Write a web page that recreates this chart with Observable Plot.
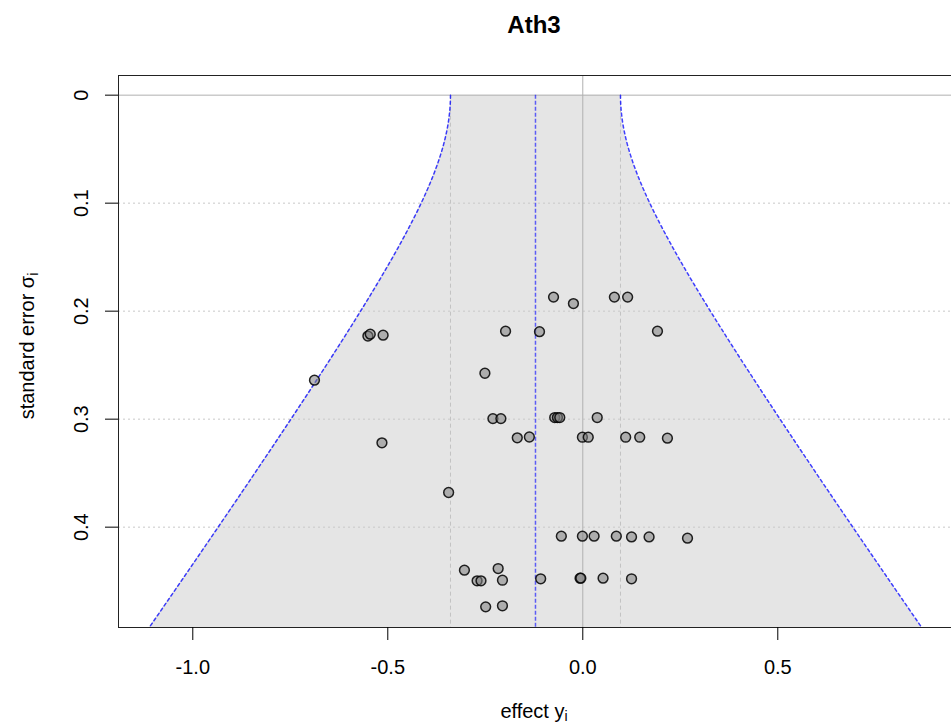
<!DOCTYPE html>
<html><head><meta charset="utf-8">
<script src="https://cdn.jsdelivr.net/npm/d3@7"></script>
<script src="https://cdn.jsdelivr.net/npm/@observablehq/plot@0.6"></script>
<style>
html,body{margin:0;padding:0;background:#fff;overflow:hidden;}
#chart svg{display:block;max-width:none;}
</style></head><body><div id="chart"></div>
<script>
// Observed effects (y_i) and standard errors (sigma_i)
const effects = [
  -0.075, -0.024, 0.081, 0.115,
  -0.198, -0.111, 0.1915,
  -0.251,
  -0.2305, -0.210, -0.072, -0.065, -0.059, 0.037,
  -0.168, -0.137, -0.001, 0.014, 0.110, 0.146, 0.217,
  -0.551, -0.545, -0.512,
  -0.688,
  -0.515,
  -0.344,
  -0.055, -0.001, 0.029, 0.086, 0.125, 0.170, 0.2685,
  -0.3035, -0.217,
  -0.271, -0.261, -0.206, -0.108, -0.007, -0.005, 0.052, 0.125,
  -0.249, -0.206
];
const stdErrors = [
  0.187, 0.193, 0.187, 0.187,
  0.2185, 0.219, 0.2185,
  0.2575,
  0.2995, 0.2995, 0.2985, 0.2985, 0.2985, 0.2985,
  0.3173, 0.3165, 0.3167, 0.3167, 0.3167, 0.3167, 0.3176,
  0.2231, 0.2213, 0.2222,
  0.2639,
  0.3219,
  0.3679,
  0.4083, 0.4083, 0.4083, 0.4083, 0.409, 0.409, 0.4102,
  0.4398, 0.4383,
  0.4497, 0.4497, 0.4491, 0.4478, 0.4472, 0.4472, 0.4472, 0.4478,
  0.4738, 0.4728
];
const pooledEstimate = -0.1213;   // dashed blue centre line
const tau = 0.1112;               // between-study SD (funnel width at se = 0)
const zCrit = 1.96;

const xTicks = [-1, -0.5, 0, 0.5];
const xTickLabels = ["-1.0", "-0.5", "0.0", "0.5"];
const yTicks = [0, 0.1, 0.2, 0.3, 0.4];
const yTickLabels = ["0", "0.1", "0.2", "0.3", "0.4"];
const yGrid = [0.1, 0.2, 0.3, 0.4];
const xDomain = [-1.1905, 0.9685];
const yDomain = [-0.0182, 0.4929];

const points = effects.map((e, i) => ({effect: e, se: stdErrors[i]}));
const seGrid = d3.range(0, yDomain[1], 0.002).concat([yDomain[1]]);
const funnel = seGrid.map(s => {
  const h = zCrit * Math.sqrt(s * s + tau * tau);
  return {se: s, lo: pooledEstimate - h, hi: pooledEstimate + h};
});
const tauBand = [pooledEstimate - zCrit * tau, pooledEstimate + zCrit * tau];

const chart = Plot.plot({
  width: 960, height: 726,
  marginLeft: 118, marginRight: 0, marginTop: 75, marginBottom: 99,
  style: {fontFamily: "'Liberation Sans', Arial, sans-serif", background: "white", maxWidth: "none"},
  x: {domain: xDomain, axis: null},
  y: {domain: yDomain, reverse: true, axis: null},
  marks: [
    Plot.areaX(funnel, {y: "se", x1: "lo", x2: "hi", fill: "#e5e5e5"}),
    Plot.ruleY(yGrid, {stroke: "#c8c8c8", strokeDasharray: "2,3"}),
    Plot.ruleY([0], {stroke: "#b0b0b0"}),
    Plot.ruleX([0], {stroke: "#b0b0b0"}),
    Plot.ruleX(tauBand, {y1: 0, y2: yDomain[1], stroke: "#c2c2c2", strokeDasharray: "4,3"}),
    Plot.line(funnel, {x: "lo", y: "se", stroke: "blue", strokeOpacity: 0.75, strokeDasharray: "3,3"}),
    Plot.line(funnel, {x: "hi", y: "se", stroke: "blue", strokeOpacity: 0.75, strokeDasharray: "3,3"}),
    Plot.ruleX([pooledEstimate], {y1: 0, y2: yDomain[1], stroke: "blue", strokeOpacity: 0.6, strokeWidth: 1.5, strokeDasharray: "4,2"}),
    Plot.dot(points, {x: "effect", y: "se", r: 4.9, fill: "#808080", fillOpacity: 0.55, stroke: "black", strokeOpacity: 0.85}),
    Plot.frame({stroke: "#222"}),
    Plot.axisX({ticks: xTicks, tickSize: 13, tickPadding: 19, fontSize: 20,
      tickFormat: d => xTickLabels[xTicks.indexOf(d)], label: null}),
    Plot.axisY({ticks: yTicks, tickSize: 13, tickFormat: () => "", label: null}),
    Plot.text(yTicks, {y: d => d, text: d => yTickLabels[yTicks.indexOf(d)],
      frameAnchor: "left", textAnchor: "middle", dx: -37, rotate: -90, fontSize: 20, fill: "black"})
  ]
});
document.getElementById("chart").appendChild(chart);

const svg = d3.select(chart);
svg.append("text").attr("x", 534).attr("y", 33).attr("text-anchor", "middle")
  .attr("font-weight", "bold").attr("font-size", 24).attr("fill", "black").text("Ath3");
const xl = svg.append("text").attr("x", 534).attr("y", 718).attr("text-anchor", "middle")
  .attr("font-size", 20).attr("fill", "black");
xl.append("tspan").text("effect y");
xl.append("tspan").attr("font-size", 14).attr("dy", 3).text("i");
const yl = svg.append("text").attr("transform", "translate(34,346) rotate(-90)")
  .attr("text-anchor", "middle").attr("font-size", 20).attr("fill", "black");
yl.append("tspan").text("standard error σ");
yl.append("tspan").attr("font-size", 14).attr("dy", 4).text("i");
</script></body></html>
